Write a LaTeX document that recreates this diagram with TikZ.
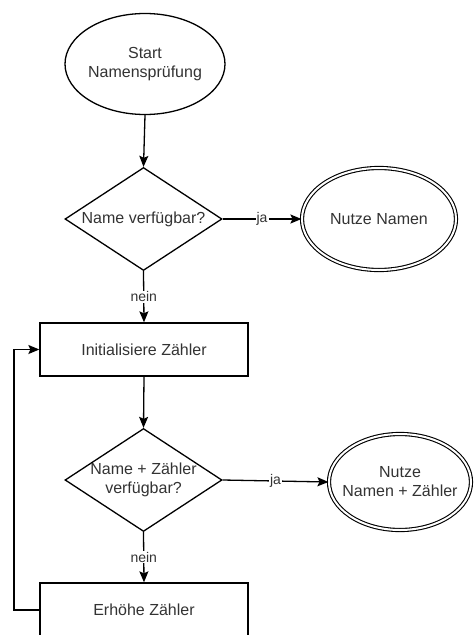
\documentclass[tikz,border=0pt]{standalone}
\usepackage{fontspec}
\setmainfont{Liberation Sans}
\usetikzlibrary{shapes.geometric,arrows.meta}
\definecolor{txtgray}{HTML}{333333}
\begin{document}
\begin{tikzpicture}[x=1pt,y=-1pt,
  line width=1.3pt,
  shapebase/.style={draw=black, fill=white, inner sep=0pt, line width=1.3pt},
  terminal/.style={shapebase, ellipse, minimum width=160pt, minimum height=101pt},
  endstate/.style={shapebase, ellipse, double, double distance=2pt, line width=1.1pt},
  decision/.style={shapebase, diamond, minimum width=157pt, minimum height=103pt},
  process/.style={shapebase, rectangle, minimum width=208pt, minimum height=53pt},
  txt/.style={text=txtgray, align=center, font=\fontsize{16}{19}\selectfont, inner sep=0pt},
  edgelabel/.style={fill=white, text=txtgray, inner sep=1pt, font=\fontsize{14}{16}\selectfont},
  flow/.style={draw=black, line width=1.3pt, -{Stealth[length=11pt,width=9pt,inset=2pt]}}
]
\clip (0,0) rectangle (474,635);
\fill[white] (0,0) rectangle (474,635);

% shapes
\node[terminal] (start) at (145,64) {};
\node[txt] at (start) {Start\\Namensprüfung};

\node[decision] (d1) at (143.5,219) {};
\node[txt] at (d1) {Name verfügbar?};

\node[endstate, minimum width=154pt, minimum height=102pt] (e1) at (379,219) {};
\node[txt] at (e1) {Nutze Namen};

\node[process] (p1) at (144,349.5) {};
\node[txt] at (p1) {Initialisiere Zähler};

\node[decision] (d2) at (143.5,480) {};
\node[txt] at (d2) {Name + Zähler\\verfügbar?};

\node[endstate, minimum width=142pt, minimum height=96pt] (e2) at (400,482) {};
\node[txt] at (e2) {Nutze\\Namen + Zähler};

\node[process, minimum height=54pt] (p2) at (144,610) {};
\node[txt] at (p2) {Erhöhe Zähler};

% connectors
\draw[flow] (start.south) -- (d1.north);
\draw[flow] (d1.east) -- node[edgelabel] {ja} (e1.west);
\draw[flow] (d1.south) -- node[edgelabel] {nein} (p1.north);
\draw[flow] (p1.south) -- (d2.north);
\draw[flow] (d2.east) -- node[edgelabel] {ja} (e2.west);
\draw[flow] (d2.south) -- node[edgelabel] {nein} (p2.north);

\coordinate (loopbottom) at (14,610);
\coordinate (looptop) at (14,349.5);
\draw[flow] (p2.west) -- (loopbottom) -- (looptop) -- (p1.west);
\end{tikzpicture}
\end{document}
